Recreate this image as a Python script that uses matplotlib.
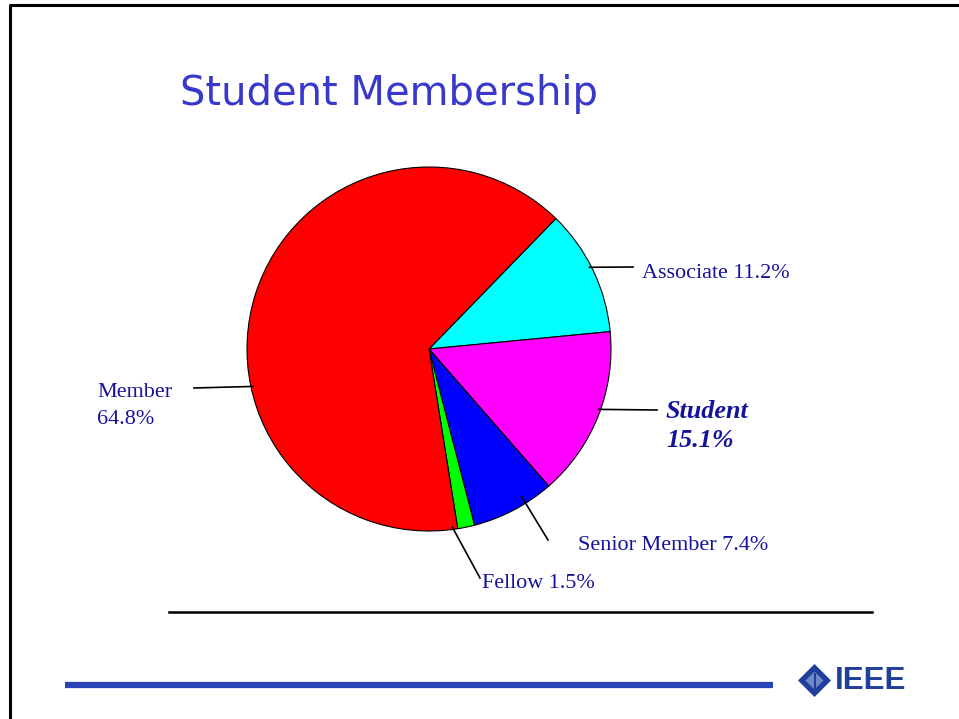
import numpy as np
import matplotlib
matplotlib.use("Agg")
import matplotlib.pyplot as plt
from matplotlib.patches import Polygon

# data, clockwise from the top-right edge of the Member slice
categories = ["Associate", "Student", "Senior Member", "Fellow", "Member"]
shares = [11.2, 15.1, 7.4, 1.5, 64.8]
colors = ["#00FFFF", "#FF00FF", "#0000FF", "#00FF00", "#FF0000"]
label_texts = ["Associate 11.2%", "Student\n15.1%", "Senior Member 7.4%",
               "Fellow 1.5%", "Member\n64.8%"]

W, H = 959, 719
fig = plt.figure(figsize=(W / 100, H / 100), dpi=100)
ax = fig.add_axes([0, 0, 1, 1])

cx, cy, r = 429, H - 349, 182
ax.pie(shares, colors=colors, startangle=45.8, counterclock=False,
       center=(cx, cy), radius=r,
       wedgeprops=dict(edgecolor="black", linewidth=0.8))

ax.set_xlim(0, W)
ax.set_ylim(0, H)
ax.set_aspect("auto")
ax.axis("off")

# slide frame (left and top)
ax.plot([10, 10], [0, H - 5], color="black", lw=2.2, solid_capstyle="butt")
ax.plot([9, W], [H - 5, H - 5], color="black", lw=2.2, solid_capstyle="butt")

ax.text(180, H - 94, "Student Membership", color="#3838CC", fontsize=28.8,
        family="DejaVu Sans", va="center", ha="left")

label_col = "#14149A"
serif = "Liberation Serif"

# leader lines: (angle on pie edge, end point), label position
leaders = {
    "Associate": (27, (633, 267), (642, 273)),
    "Student": (-19.6, (657, 410), (666, 426)),
    "Senior Member": (-57.9, (548, 540), (578, 546)),
    "Fellow": (-82.5, (480, 578), (482, 584)),
    "Member": (192, (194, 388), (97, 406)),
}

for cat, txt in zip(categories, label_texts):
    ang, end, pos = leaders[cat]
    a = np.deg2rad(ang)
    rr = r - 2
    if cat == "Senior Member":
        rr = r - 8
    x0, y0 = cx + rr * np.cos(a), cy + rr * np.sin(a)
    ax.plot([x0, end[0]], [y0, H - end[1]], color="black", lw=1.2)
    if cat == "Student":
        ax.text(pos[0], H - pos[1], txt, color=label_col, family=serif,
                fontsize=18.8, fontweight="bold", fontstyle="italic",
                ha="left", va="center", linespacing=1.37)
    else:
        ax.text(pos[0], H - pos[1], txt, color=label_col, family=serif,
                fontsize=15.9, ha="left", va="center", linespacing=1.52)

# rule under the chart
ax.plot([169, 872], [H - 612, H - 612], color="black", lw=1.8)

# blue footer bar
ax.plot([65, 773], [H - 685, H - 685], color="#2B45B8", lw=4.5,
        solid_capstyle="butt")

# IEEE logo
lx, ly, s = 814.5, H - 680.5, 16.5
ax.add_patch(Polygon([(lx - s, ly), (lx, ly + s), (lx + s, ly), (lx, ly - s)],
                     closed=True, facecolor="#1F3F9A", edgecolor="none"))
s2 = 10
ax.add_patch(Polygon([(lx - s2, ly), (lx, ly + s2), (lx + s2, ly), (lx, ly - s2)],
                     closed=True, facecolor="#6F88C8", edgecolor="#1F3F9A", lw=1))
ax.plot([lx, lx], [ly - 7, ly + 7], color="#1F3F9A", lw=1.5)
ax.text(835, H - 681, "IEEE", color="#1F3F9A", family="Liberation Sans",
        fontweight="bold", fontsize=22.5, ha="left", va="center")

fig.savefig("out.png", dpi=100, facecolor="white")
